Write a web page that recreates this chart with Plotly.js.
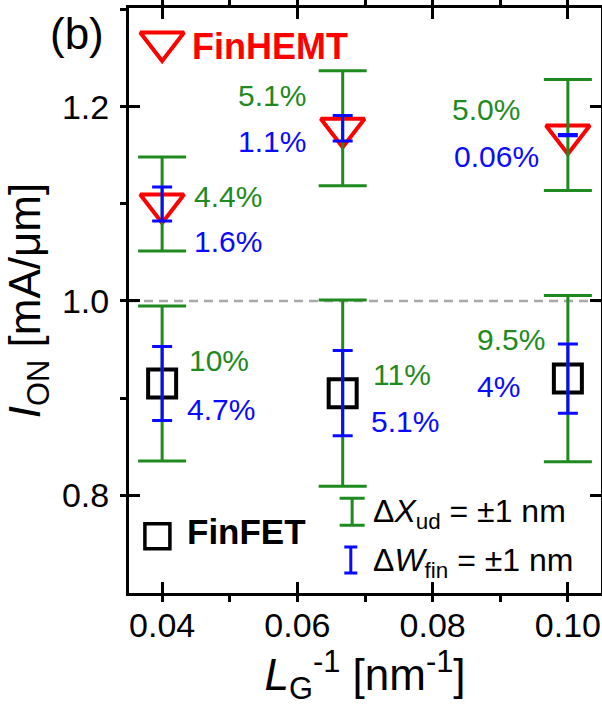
<!DOCTYPE html>
<html>
<head>
<meta charset="utf-8">
<script src="https://cdn.plot.ly/plotly-3.0.1.min.js"></script>
<style>
  html, body { margin: 0; padding: 0; background: #ffffff; }
  #chart { width: 602px; height: 716px; }
</style>
</head>
<body>
<div id="chart"></div>
<script>
// Inverse gate length L_G^-1 [nm^-1] (L_G = 25, 15, 10 nm)
const invLg = [0.04, 0.0667, 0.10];

// On-current I_ON [mA/um]
const hemtIon = [1.100, 1.178, 1.171];
const fetIon = [0.915, 0.905, 0.920];

// Spread of I_ON for dX_ud = +-1 nm and dW_fin = +-1 nm [mA/um]
const hemtDxud = [0.0485, 0.0593, 0.0572];
const hemtDwfin = [0.0176, 0.0132, 0.0007];
const fetDxud = [0.0799, 0.0959, 0.0856];
const fetDwfin = [0.0381, 0.0440, 0.0356];

// Relative variation labels
const hemtXudPct = ['4.4%', '5.1%', '5.0%'];
const hemtWfinPct = ['1.6%', '1.1%', '0.06%'];
const fetXudPct = ['10%', '11%', '9.5%'];
const fetWfinPct = ['4.7%', '5.1%', '4%'];

// Reference current level
const refIon = 1.0;

const GREEN = '#1f8a1f';
const BLUE = '#0a0aff';
const RED = '#ff0000';
const SANS = 'Liberation Sans, Arial, sans-serif';

// Sub/superscripts as shifted spans
function sub(t) { return '<span style="font-size:70%;baseline-shift:-0.3em">' + t + '</span>'; }
function sup(t) { return '<span style="font-size:70%;baseline-shift:0.6em">' + t + '</span>'; }

// Pixel offsets of the percentage labels from their points: [dx, dy, anchor]
const hemtXudOff = [[30, 7, 'left'], [-35, 33, 'right'], [-118, 26, 'left']];
const hemtWfinOff = [[30, -38, 'left'], [-35, -13, 'right'], [-116, -21, 'left']];
const fetXudOff = [[25, 23, 'left'], [28, 19, 'left'], [-93, 39, 'left']];
const fetWfinOff = [[23, -26, 'left'], [26, -28, 'left'], [-93, -8, 'left']];

function errTrace(x, y, err, color, capHalf) {
  return {
    x: x, y: y, type: 'scatter', mode: 'markers', hoverinfo: 'skip', showlegend: false,
    marker: { size: 1, color: 'rgba(0,0,0,0)' },
    error_y: { type: 'data', array: err, visible: true, color: color, thickness: 3, width: capHalf }
  };
}

const traces = [
  {
    name: 'FinHEMT', x: invLg, y: hemtIon, type: 'scatter', mode: 'markers', showlegend: false,
    marker: { symbol: 'triangle-down-open', size: 38, color: RED, line: { width: 4, color: RED } }
  },
  {
    name: 'FinFET', x: invLg, y: fetIon, type: 'scatter', mode: 'markers', showlegend: false,
    marker: { symbol: 'square-open', size: 28, color: '#000', line: { width: 4, color: '#000' } }
  },
  errTrace(invLg, hemtIon, hemtDxud, GREEN, 24),
  errTrace(invLg, fetIon, fetDxud, GREEN, 24),
  errTrace(invLg, hemtIon, hemtDwfin, BLUE, 10),
  errTrace(invLg, fetIon, fetDwfin, BLUE, 10)
];

// In-plot key: symbol positions in axis units
const keyHemt = { x: 0.0400, y: 1.267 };
const keyFet = { x: 0.0393, y: 0.7575 };
const keyXud = { x: 0.0681, y: 0.7828, half: 0.0139 };
const keyWfin = { x: 0.0679, y: 0.7330, half: 0.0134 };

traces.push({
  x: [keyHemt.x], y: [keyHemt.y], type: 'scatter', mode: 'markers',
  showlegend: false, hoverinfo: 'skip',
  marker: { symbol: 'triangle-down-open', size: 38, color: RED, line: { width: 4, color: RED } }
});
traces.push({
  x: [keyFet.x], y: [keyFet.y], type: 'scatter', mode: 'markers',
  showlegend: false, hoverinfo: 'skip',
  marker: { symbol: 'square-open', size: 25, color: '#000', line: { width: 3.5, color: '#000' } }
});
traces.push(errTrace([keyXud.x], [keyXud.y], [keyXud.half], GREEN, 12.5));
traces.push(errTrace([keyWfin.x], [keyWfin.y], [keyWfin.half], BLUE, 6.5));

const annotations = [];
function pctLabels(ys, labels, offs, color) {
  labels.forEach(function (t, i) {
    annotations.push({
      x: invLg[i], y: ys[i], xref: 'x', yref: 'y', text: t, showarrow: false,
      xanchor: offs[i][2], yanchor: 'middle', xshift: offs[i][0], yshift: offs[i][1],
      font: { family: SANS, size: 30, color: color }
    });
  });
}
pctLabels(hemtIon, hemtXudPct, hemtXudOff, GREEN);
pctLabels(hemtIon, hemtWfinPct, hemtWfinOff, BLUE);
pctLabels(fetIon, fetXudPct, fetXudOff, GREEN);
pctLabels(fetIon, fetWfinPct, fetWfinOff, BLUE);

annotations.push(
  { x: keyHemt.x, y: keyHemt.y, xref: 'x', yref: 'y', text: '<b>FinHEMT</b>', showarrow: false,
    xanchor: 'left', yanchor: 'middle', xshift: 28, yshift: -5,
    font: { family: SANS, size: 36, color: RED } },
  { x: keyFet.x, y: keyFet.y, xref: 'x', yref: 'y', text: '<b>FinFET</b>', showarrow: false,
    xanchor: 'left', yanchor: 'middle', xshift: 28, yshift: 5,
    font: { family: SANS, size: 35, color: '#000' } },
  { x: keyXud.x, y: keyXud.y, xref: 'x', yref: 'y', text: 'Δ<i>X</i>' + sub('ud') + ' = ±1 nm', showarrow: false,
    xanchor: 'left', yanchor: 'middle', xshift: 19, yshift: -2,
    font: { family: SANS, size: 32, color: '#000' } },
  { x: keyWfin.x, y: keyWfin.y, xref: 'x', yref: 'y', text: 'Δ<i>W</i>' + sub('fin') + ' = ±1 nm', showarrow: false,
    xanchor: 'left', yanchor: 'middle', xshift: 20, yshift: -2,
    font: { family: SANS, size: 32, color: '#000' } },
  { x: -0.110, y: 0.956, xref: 'paper', yref: 'paper', text: '(b)', showarrow: false,
    xanchor: 'center', yanchor: 'middle',
    font: { family: SANS, size: 44, color: '#000' } }
);

const axisCommon = {
  showline: true, linewidth: 3, linecolor: '#000', mirror: 'ticks',
  ticks: 'inside', ticklen: 11, tickwidth: 3, tickcolor: '#000',
  showgrid: false, zeroline: false, ticklabeloverflow: 'allow',
  tickfont: { family: SANS, size: 34, color: '#000' }
};

const layout = {
  width: 602, height: 716,
  margin: { l: 129, r: 1, t: 8, b: 123 },
  paper_bgcolor: '#fff', plot_bgcolor: '#fff',
  showlegend: false,
  xaxis: Object.assign({}, axisCommon, {
    range: [0.0351, 0.1049], tick0: 0.04, dtick: 0.02, tickformat: '.2f',
    minor: { dtick: 0.01, tick0: 0.04, ticks: 'outside', ticklen: 6, tickwidth: 3, tickcolor: '#000', showgrid: false },
    ticklabelstandoff: 0,
    title: { text: '<i>L</i>' + sub('G') + sup('-1') + ' [nm' + sup('-1') + ']', standoff: 16,
             font: { family: SANS, size: 44, color: '#000' } }
  }),
  yaxis: Object.assign({}, axisCommon, {
    range: [0.699, 1.302], tick0: 0.8, dtick: 0.2, tickformat: '.1f',
    minor: { dtick: 0.1, tick0: 0.8, ticks: 'outside', ticklen: 6, tickwidth: 3, tickcolor: '#000', showgrid: false },
    ticklabelstandoff: 10,
    title: { text: '<i>I</i>' + sub('ON') + ' [mA/μm]', standoff: 14,
             font: { family: SANS, size: 44, color: '#000' } }
  }),
  shapes: [{
    type: 'line', xref: 'paper', yref: 'y', x0: 0, x1: 1, y0: refIon, y1: refIon,
    layer: 'below', line: { color: '#a8a8a8', width: 2.5, dash: '9px,6px' }
  }],
  annotations: annotations
};

Plotly.newPlot('chart', traces, layout, { displayModeBar: false, staticPlot: true });
</script>
</body>
</html>
